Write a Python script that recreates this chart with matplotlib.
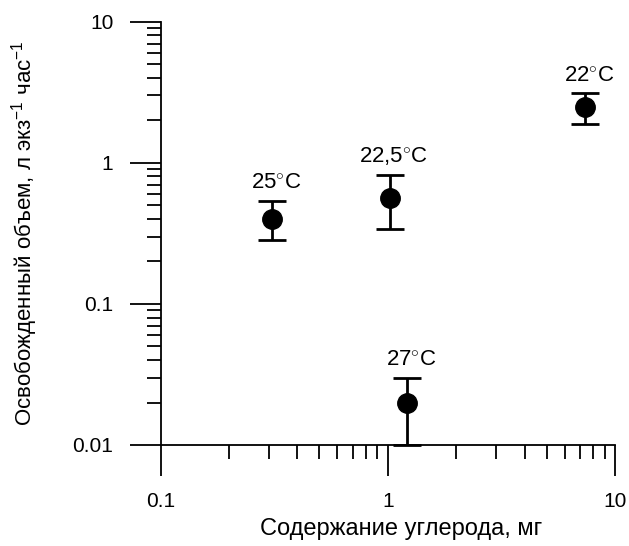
import matplotlib
matplotlib.use("Agg")
import matplotlib.pyplot as plt
from matplotlib.ticker import LogLocator, FixedLocator, FixedFormatter, NullFormatter
import numpy as np

plt.rcParams['font.family'] = ['Liberation Sans', 'DejaVu Sans']
plt.rcParams['mathtext.fontset'] = 'custom'
plt.rcParams['mathtext.rm'] = 'Liberation Sans'
plt.rcParams['mathtext.it'] = 'Liberation Sans'

# Carbon content (mg) and released volume with error range
carbon = [0.31, 1.02, 7.4, 1.21]
volume = [0.40, 0.56, 2.49, 0.020]
vol_low = [0.283, 0.34, 1.87, 0.010]
vol_high = [0.54, 0.82, 3.1, 0.030]
temps = ["25", "22,5", "22", "27"]

x_ticks = [0.1, 1, 10]
x_tick_labels = ["0.1", "1", "10"]
y_ticks = [0.01, 0.1, 1, 10]
y_tick_labels = ["0.01", "0.1", "1", "10"]

fig = plt.figure(figsize=(6.29, 5.46), dpi=100)
ax = fig.add_axes([0.2555, 0.185, 0.7222, 0.7753])
ax.set_xscale('log')
ax.set_yscale('log')
ax.set_xlim(0.1, 10)
ax.set_ylim(0.01, 10)

v = np.array(volume)
yerr = np.vstack([v - np.array(vol_low), np.array(vol_high) - v])
ax.errorbar(carbon, volume, yerr=yerr, fmt='o', color='black', ms=14,
            elinewidth=2, capsize=10, capthick=2, clip_on=False, zorder=3)

for xi, hi, t in zip(carbon, vol_high, temps):
    ax.annotate(t + r"$^{\circ}$C", (xi, hi), xytext=(3, 5),
                textcoords='offset points', ha='center', va='bottom',
                fontsize=16)

for s in ['top', 'right']:
    ax.spines[s].set_visible(False)
for s in ['left', 'bottom']:
    ax.spines[s].set_linewidth(1.3)

ax.xaxis.set_major_locator(FixedLocator(x_ticks))
ax.xaxis.set_major_formatter(FixedFormatter(x_tick_labels))
ax.yaxis.set_major_locator(FixedLocator(y_ticks))
ax.yaxis.set_major_formatter(FixedFormatter(y_tick_labels))
ax.xaxis.set_minor_locator(LogLocator(base=10, subs=np.arange(2, 10)))
ax.yaxis.set_minor_locator(LogLocator(base=10, subs=np.arange(2, 10)))
ax.xaxis.set_minor_formatter(NullFormatter())
ax.yaxis.set_minor_formatter(NullFormatter())

ax.tick_params(which='major', direction='out', length=22, width=1.3,
               labelsize=15, pad=12)
ax.tick_params(which='minor', direction='out', length=10, width=1.3)

ax.set_xlabel("Содержание углерода, мг", fontsize=17)
ax.set_ylabel("Освобожденный объем, л экз$^{-1}$ час$^{-1}$", fontsize=16)
ax.xaxis.set_label_coords(0.529, -0.172)
ax.yaxis.set_label_coords(-0.30, 0.5)
ax.yaxis.label.set_va('center')

fig.savefig("out.png", dpi=100)
